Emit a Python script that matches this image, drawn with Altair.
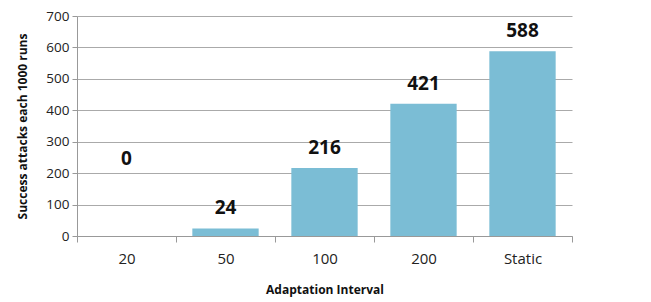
import altair as alt
import pandas as pd

categories = ["20", "50", "100", "200", "Static"]
values = [0, 24, 216, 421, 588]
y_ticks = [0, 100, 200, 300, 400, 500, 600, 700]

df = pd.DataFrame({"cat": categories, "v": values})

FONT = "Open Sans"

x_enc = alt.X("cat:N", sort=categories,
              scale=alt.Scale(paddingInner=0, paddingOuter=0),
              axis=alt.Axis(title="Adaptation Interval", labelAngle=0, tickBand="extent",
                            labelFontSize=15, labelFont=FONT, labelColor="#222",
                            titleFont=FONT, titleFontSize=12, titleFontWeight="bold",
                            titleColor="#111", titlePadding=18, labelPadding=9,
                            domainColor="#999", tickColor="#999", tickSize=6))

y_scale = alt.Scale(domain=[0, 700], nice=False)
y_axis = alt.Axis(title="Success attacks each 1000 runs", values=y_ticks,
                  labelOverlap=False, tickCount=8,
                  labelFontSize=13.5, labelFont=FONT, labelColor="#222",
                  titleFont=FONT, titleFontSize=12, titleFontWeight="bold",
                  titleColor="#111", titlePadding=16,
                  gridColor="#aaa", domainColor="#999", tickColor="#999",
                  tickSize=5, labelPadding=3)

bars = alt.Chart(df).mark_bar(color="#7bbdd5", width=alt.RelativeBandSize(0.67)).encode(
    x=x_enc,
    y=alt.Y("v:Q", scale=y_scale, axis=y_axis),
)

labels = alt.Chart(df).transform_calculate(
    ly="datum.v == 0 ? 180 : datum.v"
).mark_text(font=FONT, fontSize=19, fontWeight="bold", dy=-20, color="#111").encode(
    x=x_enc,
    y=alt.Y("ly:Q", scale=y_scale, axis=y_axis),
    text="v:Q",
)

chart = (bars + labels).properties(
    width=495, height=220,
    autosize=alt.AutoSizeParams(type="none"),
    padding={"left": 69, "top": 8, "right": 10, "bottom": 64},
).configure_view(stroke=None)

chart.save("out.html", embed_options={"renderer": "svg", "actions": False})
